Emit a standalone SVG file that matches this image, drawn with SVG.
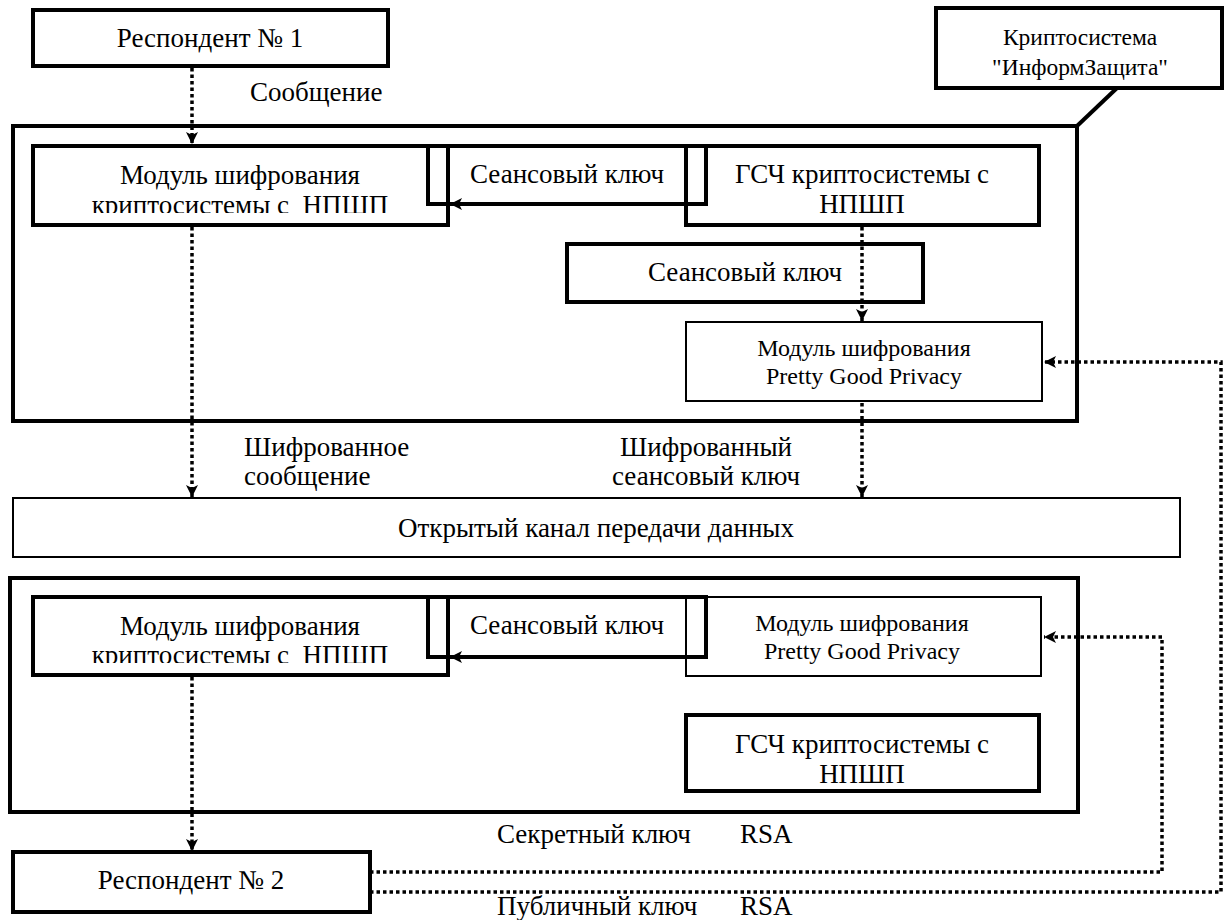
<svg xmlns="http://www.w3.org/2000/svg" width="1224" height="920" viewBox="0 0 1224 920">
<style>
text{fill:#000;}
.t{font-size:27px;text-anchor:middle;}
.s{font-size:24px;text-anchor:middle;}
.c{font-size:23.5px;text-anchor:middle;}
.l{font-size:27px;}
.b{fill:none;stroke:#000;stroke-width:4;}
.n{fill:none;stroke:#000;stroke-width:2;}
.d{fill:none;stroke:#000;stroke-width:3.5;stroke-dasharray:3.5 3;}
.a{fill:none;stroke:#000;stroke-width:4;}
</style>
<defs>
<marker id="ah" viewBox="0 0 12 12" refX="12" refY="6" markerWidth="12" markerHeight="12" markerUnits="userSpaceOnUse" orient="auto">
<path d="M0,0 L12,6 L0,12 L3,6 z" fill="#000"/>
</marker>
<clipPath id="c1"><rect x="30" y="190" width="420" height="23"/></clipPath>
<clipPath id="c2"><rect x="30" y="640" width="420" height="23"/></clipPath>
</defs>

<g id="resp1"><rect class="b" x="33" y="10" width="355" height="56"/><text font-family="Liberation Serif" class="t" x="210" y="47">Респондент № 1</text></g>
<g id="crypto"><rect class="b" x="936" y="8" width="286" height="80"/><text font-family="Liberation Serif" class="c" x="1080" y="45">Криптосистема</text><text font-family="Liberation Serif" class="c" x="1080" y="75">"ИнформЗащита"</text></g>
<g id="outer1"><rect class="b" x="13" y="126" width="1064" height="295"/></g>
<g id="mod1"><rect class="b" x="33" y="146" width="415" height="79"/><text font-family="Liberation Serif" class="t" x="240" y="184">Модуль шифрования</text><text font-family="Liberation Serif" class="t" x="240" y="214" clip-path="url(#c1)" xml:space="preserve">криптосистемы с  НПШП</text></g>
<g id="key1"><path class="b" d="M686,204 H706 V146 H428 V204 H448"/><text font-family="Liberation Serif" class="t" x="567" y="183">Сеансовый ключ</text></g>
<g id="gsch1"><rect class="b" x="686" y="146" width="353" height="79"/><text font-family="Liberation Serif" class="t" x="862" y="183">ГСЧ криптосистемы с</text><text font-family="Liberation Serif" class="t" x="862" y="213">НПШП</text></g>
<g id="key2"><rect class="b" x="567" y="244" width="356" height="58"/><text font-family="Liberation Serif" class="t" x="745" y="281">Сеансовый ключ</text></g>
<g id="pgp1"><rect class="n" x="686" y="322" width="356" height="79"/><text font-family="Liberation Serif" class="s" x="864" y="356">Модуль шифрования</text><text font-family="Liberation Serif" class="s" x="864" y="384">Pretty Good Privacy</text></g>
<g id="channel"><rect class="n" x="13" y="498" width="1167" height="59"/><text font-family="Liberation Serif" class="t" x="596" y="537">Открытый канал передачи данных</text></g>
<g id="outer2"><rect class="b" x="10" y="578" width="1068" height="234"/></g>
<g id="mod2"><rect class="b" x="33" y="597" width="415" height="78"/><text font-family="Liberation Serif" class="t" x="240" y="635">Модуль шифрования</text><text font-family="Liberation Serif" class="t" x="240" y="664" clip-path="url(#c2)" xml:space="preserve">криптосистемы с  НПШП</text></g>
<g id="key3"><path class="b" d="M686,657 H706 V597 H428 V657 H448"/><text font-family="Liberation Serif" class="t" x="567" y="634">Сеансовый ключ</text></g>
<g id="pgp2"><rect class="n" x="686" y="597" width="355" height="79"/><text font-family="Liberation Serif" class="s" x="862" y="631">Модуль шифрования</text><text font-family="Liberation Serif" class="s" x="862" y="659">Pretty Good Privacy</text></g>
<g id="gsch2"><rect class="b" x="686" y="715" width="353" height="76"/><text font-family="Liberation Serif" class="t" x="862" y="753">ГСЧ криптосистемы с</text><text font-family="Liberation Serif" class="t" x="862" y="783">НПШП</text></g>
<g id="resp2"><rect class="b" x="13" y="852" width="357" height="60"/><text font-family="Liberation Serif" class="t" x="191" y="889">Респондент № 2</text></g>

<g id="connectors">
<line class="a" x1="1117" y1="88" x2="1077" y2="126"/>
<path class="a" d="M686,204 H450" marker-end="url(#ah)"/>
<path class="a" d="M686,657 H450" marker-end="url(#ah)"/>
<path class="d" d="M192,68 V144" marker-end="url(#ah)"/>
<path class="d" d="M192,227 V497" marker-end="url(#ah)"/>
<path class="d" d="M862,227 V321" marker-end="url(#ah)"/>
<path class="d" d="M862,403 V497" marker-end="url(#ah)"/>
<path class="d" d="M192,677 V851" marker-end="url(#ah)"/>
<path class="d" d="M370,872 H1162 V637 H1044" marker-end="url(#ah)"/>
<path class="d" d="M370,892 H1221 V362 H1044" marker-end="url(#ah)"/>
<text font-family="Liberation Serif" class="l" x="250" y="101">Сообщение</text>
<text font-family="Liberation Serif" class="l" x="244" y="456">Шифрованное</text>
<text font-family="Liberation Serif" class="l" x="244" y="485">сообщение</text>
<text font-family="Liberation Serif" class="t" x="706" y="456">Шифрованный</text>
<text font-family="Liberation Serif" class="t" x="706" y="485">сеансовый ключ</text>
<text font-family="Liberation Serif" class="l" x="497" y="843">Секретный ключ<tspan x="740">RSA</tspan></text>
<text font-family="Liberation Serif" class="l" x="497" y="915">Публичный ключ<tspan x="740">RSA</tspan></text>
</g>
</svg>
